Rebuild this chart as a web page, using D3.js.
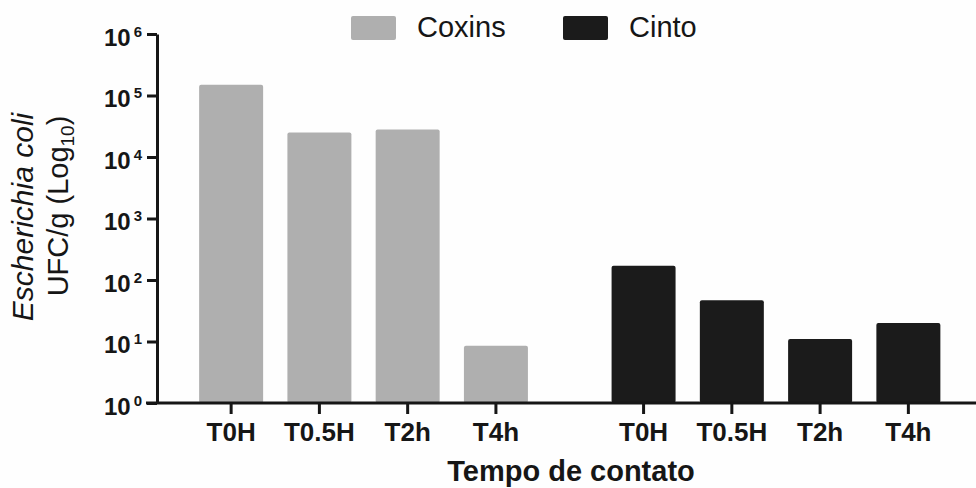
<!DOCTYPE html>
<html>
<head>
<meta charset="utf-8">
<script src="https://cdn.jsdelivr.net/npm/d3@7"></script>
<style>
  html, body { margin: 0; padding: 0; background: #fefefe; }
  svg { display: block; font-family: "Liberation Sans", Arial, sans-serif; }
</style>
</head>
<body>
<svg id="chart" width="976" height="488"></svg>
<script>
// Series and categories
const groups = ["Coxins", "Cinto"];
const times = ["T0H", "T0.5H", "T2h", "T4h"];
const coxins = [150000, 25000, 28000, 8.5];
const cinto = [170, 47, 11, 20];
const yTicks = [1, 10, 100, 1000, 10000, 100000, 1000000];
const colors = { Coxins: "#afafaf", Cinto: "#1b1b1b" };
const seriesValues = { Coxins: coxins, Cinto: cinto };

const svg = d3.select("#chart");
const ink = "#161616";

const y = d3.scaleLog().domain([1, 1e6]).range([403, 34]);

const xGroup = d3.scaleBand().domain(groups).range([187, 952.5])
  .paddingInner(0.144).paddingOuter(0);
const xTime = d3.scaleBand().domain(times).range([0, xGroup.bandwidth()])
  .paddingInner(0.275).paddingOuter(0.1375);

// Bars
groups.forEach(g => {
  const gx = xGroup(g);
  svg.append("g").selectAll("rect")
    .data(times.map((t, i) => ({ t, v: seriesValues[g][i] })))
    .join("rect")
    .attr("x", d => gx + xTime(d.t))
    .attr("y", d => y(d.v))
    .attr("width", xTime.bandwidth())
    .attr("height", d => y(1) - y(d.v))
    .attr("rx", 2)
    .attr("fill", colors[g]);
});

// Y axis
const yAxis = svg.append("g")
  .attr("transform", "translate(157,0)")
  .call(d3.axisLeft(y).tickValues(yTicks).tickSize(10).tickSizeOuter(0).tickFormat(() => ""));
yAxis.select(".domain").attr("stroke", ink).attr("stroke-width", 3);
yAxis.selectAll(".tick line").attr("stroke", ink).attr("stroke-width", 3);
yAxis.selectAll(".tick text").remove();
yAxis.selectAll(".tick").each(function(d) {
  const exp = Math.round(Math.log10(d));
  const t = d3.select(this).append("text")
    .attr("x", -15)
    .attr("y", 11)
    .attr("text-anchor", "end")
    .attr("fill", ink)
    .attr("font-weight", "bold")
    .attr("font-size", 24);
  t.append("tspan").text("10");
  t.append("tspan").attr("dx", 3).attr("dy", -9).attr("font-size", 15).text(exp);
});

// X axis baseline
svg.append("line")
  .attr("x1", 146).attr("x2", 976)
  .attr("y1", y(1)).attr("y2", y(1))
  .attr("stroke", ink).attr("stroke-width", 3);

// X ticks per group
groups.forEach(g => {
  const ax = svg.append("g")
    .attr("transform", `translate(${xGroup(g)},${y(1)})`)
    .call(d3.axisBottom(xTime).tickSize(11).tickSizeOuter(0).tickPadding(8));
  ax.select(".domain").remove();
  ax.selectAll(".tick line").attr("stroke", ink).attr("stroke-width", 3);
  ax.selectAll(".tick text")
    .attr("fill", ink)
    .attr("font-weight", "bold")
    .attr("font-size", 26)
    .attr("font-family", "Liberation Sans, Arial, sans-serif")
    .attr("dy", "0.72em");
});

// X axis title
svg.append("text")
  .attr("x", 571).attr("y", 481)
  .attr("text-anchor", "middle")
  .attr("font-weight", "bold")
  .attr("font-size", 29)
  .attr("fill", ink)
  .text("Tempo de contato");

// Y axis title (two lines)
svg.append("text")
  .attr("transform", "translate(33,217) rotate(-90)")
  .attr("text-anchor", "middle")
  .attr("font-style", "italic")
  .attr("font-size", 30)
  .attr("fill", ink)
  .text("Escherichia coli");
const yt2 = svg.append("text")
  .attr("transform", "translate(68,206) rotate(-90)")
  .attr("text-anchor", "middle")
  .attr("font-size", 29)
  .attr("fill", ink);
yt2.append("tspan").text("UFC/g (Log");
yt2.append("tspan").attr("font-size", 19).attr("dy", 6).text("10");
yt2.append("tspan").attr("dy", -6).text(")");

// Legend
const legendX = { Coxins: 351, Cinto: 563 };
groups.forEach(g => {
  const lg = svg.append("g").attr("transform", `translate(${legendX[g]},16)`);
  lg.append("rect").attr("width", 45).attr("height", 24).attr("rx", 2).attr("fill", colors[g]);
  lg.append("text").attr("x", 66).attr("y", 21)
    .attr("font-size", 29).attr("fill", ink).text(g);
});
</script>
</body>
</html>
